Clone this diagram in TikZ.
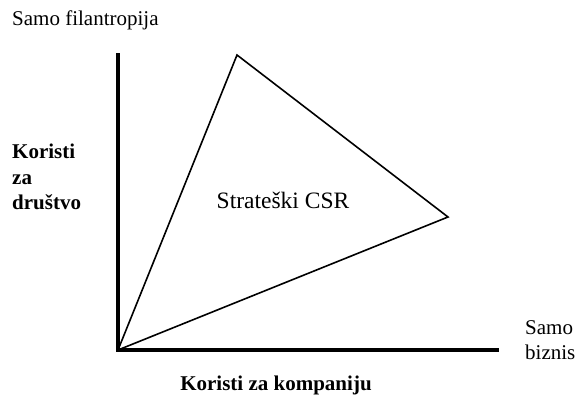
\documentclass[tikz,border=0pt]{standalone}
\usepackage{fontspec}
\setmainfont{Liberation Serif}
\usetikzlibrary{positioning}

\begin{document}
\begin{tikzpicture}[
  x=1pt,y=-1pt,
  lbl/.style={font=\fontsize{21}{25}\selectfont, inner sep=0pt},
  axislbl/.style={font=\fontsize{21}{25.5}\selectfont\bfseries, inner sep=0pt, align=left},
  axis/.style={line width=4pt, line cap=rect},
  edge/.style={line width=1.6pt, line join=miter}
]
\useasboundingbox (0,0) rectangle (577,395);
% corners of the chart
\coordinate (o) at (118,350);
\coordinate (ytop) at (118,55);
\coordinate (xend) at (497,350);
\coordinate (phil) at (237,55);
\coordinate (biz) at (448,217);
\draw[axis] (ytop) -- (o) -- (xend);
\draw[edge] (o) -- (phil) -- (biz) -- cycle;
\node[lbl, anchor=base west] (onlyphil) at (12,26) {Samo filantropija};
\node[axislbl, anchor=north west] (society) at (12,144) {Koristi\\za\\društvo};
\node[lbl, font=\fontsize{23.5}{28}\selectfont, anchor=base] (csr) at (283,208) {Strateški CSR};
\node[lbl, anchor=north west, align=left] (onlybiz) at (525,320) {Samo\\biznis};
\node[axislbl, anchor=base] (company) at (276,390) {Koristi za kompaniju};
\end{tikzpicture}
\end{document}
